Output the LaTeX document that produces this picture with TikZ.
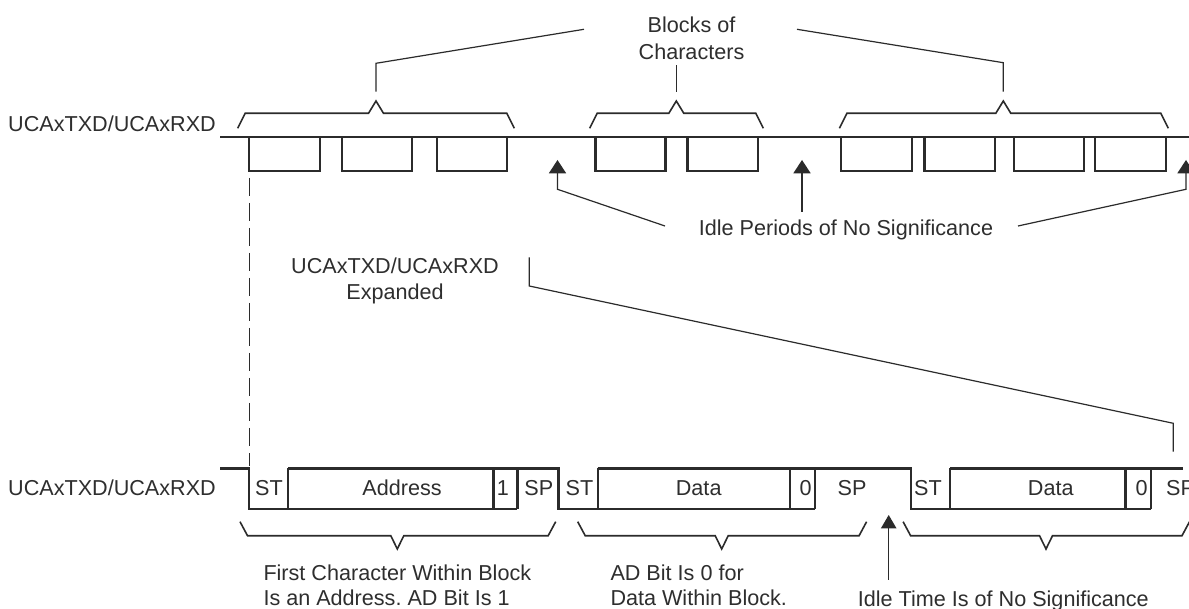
\documentclass[tikz,border=0pt]{standalone}
\usepackage{fontspec}
\setmainfont{Liberation Sans}
\frenchspacing
\definecolor{ink}{HTML}{2B2B2B}
\definecolor{txt}{HTML}{2E2E2E}
\newcommand\TopBrace[3]{\draw[brc] (#1,128.3) -- ({#1+7.5},113.3) -- ({#2-7.5},113.3) -- (#2,101) -- ({#2+7.5},113.3) -- ({#3-7.5},113.3) -- (#3,128.3);}
\newcommand\BotBrace[3]{\draw[brc] (#1,521.7) -- ({#1+7.5},535.7) -- ({#2-6.5},535.7) -- (#2,549) -- ({#2+6.5},535.7) -- ({#3-7.5},535.7) -- (#3,521.7);}
\newcommand\UpTip[3]{\fill[ink] (#1,#2) -- ({#1-#3},{#2+13.3}) -- ({#1+#3},{#2+13.3}) -- cycle;}
\begin{document}
\begin{tikzpicture}[x=1pt,y=-1pt,
  sig/.style={line width=2.4pt, draw=ink, line join=miter},
  lead/.style={line width=1.2pt, draw=ink},
  brc/.style={line width=1.6pt, draw=ink, line join=miter},
  lbl/.style={font=\fontsize{21.6}{25}\selectfont, text=txt, inner sep=0pt, anchor=base},
  lblw/.style={lbl, anchor=base west}]
\useasboundingbox (0,0) rectangle (1189,609);
\clip (0,0) rectangle (1189,609);
\fill[white] (0,0) rectangle (1189,609);

% ---------- top signal ----------
\node[lblw] (toplbl) at (8,132) {UCAxTXD/UCAxRXD};
\draw[sig] (220,137) -- (1195,137);
\foreach \a/\b in {249/320, 342/412, 437/507, 595.5/665.5, 687.5/758, 841/912, 924.5/995, 1014/1084, 1095/1166}
  \draw[sig] (\a,137) rectangle (\b,171);

% braces over blocks
\TopBrace{237.7}{376}{514.3}
\TopBrace{589.7}{676.3}{763.3}
\TopBrace{839.4}{1003.3}{1168.3}

\node[lbl] (blocks) at (691.5,33) {Blocks of};
\node[lbl] (chars) at (691.5,60) {Characters};
\coordinate (b1) at (376,91.7);
\coordinate (b2) at (676.3,91.7);
\coordinate (b3) at (1003.3,91.7);
\draw[lead] (b1) -- (376,63.3) -- (584,29.3);
\draw[lead] (b2) -- (676.3,65);
\draw[lead] (b3) -- (1003.3,62.7) -- (797,29.3);

% idle arrows top
\node[lbl] (idle) at (846,235.5) {Idle Periods of No Significance};
\UpTip{557.5}{160}{8.7}
\UpTip{802}{160}{8.7}
\UpTip{1186}{160}{8.7}
\coordinate (i1) at (557.5,173);
\coordinate (i2) at (802,173);
\coordinate (i3) at (1186,173);
\draw[lead] (i1) -- (557.5,189.3) -- (665,226);
\draw[lead] (i2) -- (802,212);
\draw[lead] (i3) -- (1186,189.3) -- (1018,226);

% dashed guide
\coordinate (d1) at (249.5,178);
\coordinate (d2) at (249.5,466);
\draw[lead, dash pattern=on 18pt off 7pt] (d1) -- (d2);

% expanded label and leader
\node[lbl] (exp1) at (395,274) {UCAxTXD/UCAxRXD};
\node[lbl] (exp2) at (395,300) {Expanded};
\draw[lead] (529.3,257.3) -- (529.3,286) -- (1173.3,423.3) -- (1173.3,451.7);

% ---------- bottom signal ----------
\node[lblw] (botlbl) at (8,495.5) {UCAxTXD/UCAxRXD};
\draw[sig] (220,468.3) -- (249,468.3) -- (249,509) -- (517.3,509);
\draw[sig] (288,468.3) -- (558.5,468.3) -- (558.5,509) -- (815,509);
\draw[sig] (597.7,468.3) -- (911,468.3) -- (911,509) -- (1151,509);
\draw[sig] (950,468.3) -- (1183,468.3);
\foreach \x in {288,493.3,517.3,597.7,790,815,950,1125.5,1151}
  \draw[sig] (\x,468.3) -- (\x,509);

\node[lbl] (st1) at (269,495) {ST};
\node[lbl] (addr) at (402,495) {Address};
\node[lbl] (one) at (503,495) {1};
\node[lbl] (sp1) at (538.8,495) {SP};
\node[lbl] (st2) at (579.5,495) {ST};
\node[lbl] (data1) at (698.7,495) {Data};
\node[lbl] (zero1) at (805.5,495) {0};
\node[lbl] (sp2) at (852,495) {SP};
\node[lbl] (st3) at (928,495) {ST};
\node[lbl] (data2) at (1050.8,495) {Data};
\node[lbl] (zero2) at (1141.6,495) {0};
\node[lblw] (sp3) at (1166,495) {SP};

% bottom braces
\BotBrace{240}{397.3}{555.7}
\BotBrace{577.7}{721.7}{866.6}
\BotBrace{903.1}{1046}{1189.5}

% bottom idle arrow
\UpTip{888.7}{515}{7.8}
\coordinate (i4) at (888.7,528);
\draw[lead] (i4) -- (888.7,580);

% bottom texts
\node[lblw] (f1) at (263.3,580) {First Character Within Block};
\node[lblw] (f2) at (263.3,605.7) {Is an Address. AD Bit Is 1};
\node[lblw] (a1) at (610.3,580) {AD Bit Is 0 for};
\node[lblw] (a2) at (610.3,605.7) {Data Within Block.};
\node[lbl] (idle2) at (1003.3,606.5) {Idle Time Is of No Significance};
\end{tikzpicture}
\end{document}
